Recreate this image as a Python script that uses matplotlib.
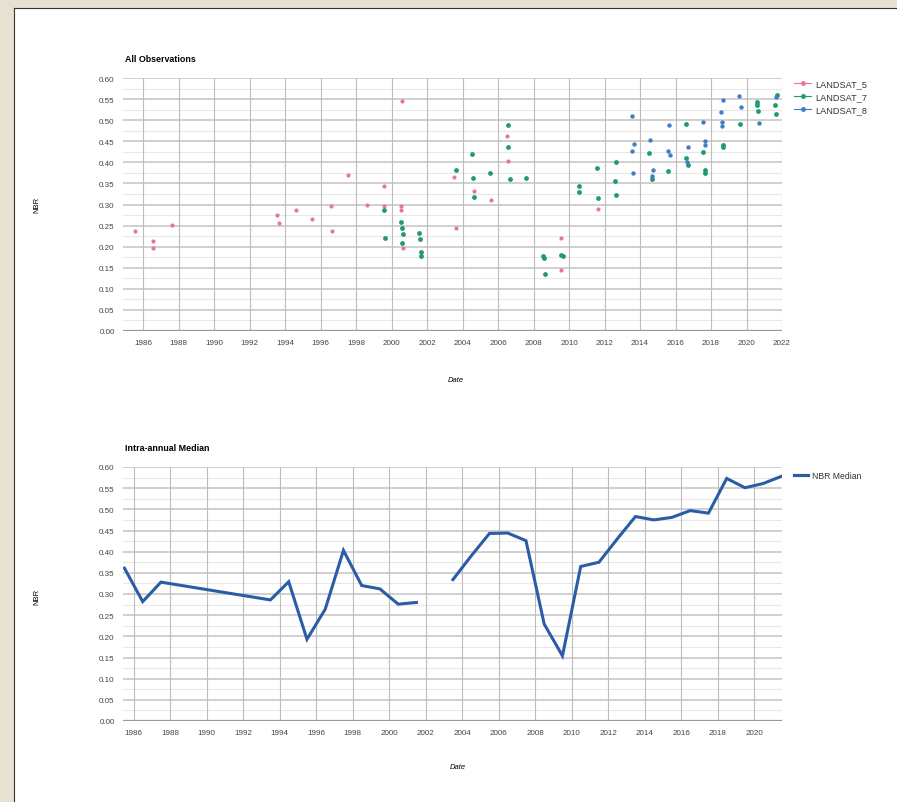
import numpy as np
import matplotlib
matplotlib.use("Agg")
import matplotlib.pyplot as plt
from matplotlib.lines import Line2D

plt.rcParams['font.family'] = ['Liberation Sans', 'DejaVu Sans']

# --- All Observations (scatter) ---
l5_year = [1985.55, 1986.58, 1986.58, 1987.65, 1993.53, 1993.66, 1994.6, 1995.54, 1996.57, 1996.65,
           1997.53, 1998.6, 1999.6, 1999.6, 2000.57, 2000.53, 2000.53, 2000.63, 2003.54, 2003.62,
           2004.66, 2005.6, 2006.53, 2006.56, 2009.55, 2009.57, 2011.65]
l5_nbr = [0.238, 0.214, 0.198, 0.251, 0.276, 0.257, 0.286, 0.266, 0.296, 0.236,
          0.370, 0.300, 0.345, 0.296, 0.545, 0.296, 0.288, 0.196, 0.366, 0.244,
          0.333, 0.311, 0.463, 0.404, 0.220, 0.145, 0.290]

l7_year = [1999.6, 1999.65, 2000.52, 2000.57, 2000.67, 2000.6, 2001.57, 2001.6, 2001.66, 2001.66,
           2003.63, 2004.53, 2004.61, 2004.66, 2005.55, 2006.55, 2006.58, 2006.68, 2007.58,
           2008.55, 2008.57, 2008.65, 2009.53, 2009.64, 2010.58, 2010.58, 2011.56, 2011.63,
           2012.63, 2012.6, 2012.65, 2014.53, 2014.65, 2015.6, 2016.58, 2016.6, 2016.69,
           2017.57, 2017.65, 2017.66, 2018.66, 2018.68, 2019.63, 2020.57, 2020.6, 2020.62,
           2021.7, 2021.59, 2021.65]
l7_nbr = [0.288, 0.220, 0.258, 0.244, 0.230, 0.209, 0.232, 0.217, 0.187, 0.179,
          0.382, 0.419, 0.364, 0.317, 0.375, 0.489, 0.437, 0.360, 0.364,
          0.178, 0.173, 0.136, 0.181, 0.177, 0.345, 0.330, 0.386, 0.315,
          0.401, 0.355, 0.323, 0.422, 0.360, 0.379, 0.490, 0.410, 0.394,
          0.424, 0.382, 0.375, 0.442, 0.436, 0.492, 0.544, 0.537, 0.522,
          0.560, 0.536, 0.515]

l8_year = [2013.57, 2013.66, 2013.53, 2013.62, 2014.56, 2014.72, 2014.65, 2015.65, 2015.56, 2015.69,
           2016.69, 2016.66, 2017.57, 2017.65, 2017.67, 2018.66, 2018.55, 2018.6, 2018.6,
           2019.58, 2019.7, 2020.7, 2021.68]
l8_nbr = [0.511, 0.443, 0.428, 0.374, 0.454, 0.383, 0.367, 0.489, 0.428, 0.417,
          0.437, 0.400, 0.495, 0.450, 0.442, 0.549, 0.520, 0.496, 0.487,
          0.557, 0.532, 0.494, 0.554]

# --- Intra-annual Median ---
med_year = [1985.5, 1986.5, 1987.5, 1993.5, 1994.5, 1995.5, 1996.5, 1997.5, 1998.5, 1999.5,
            2000.5, 2001.5, 2002.5, 2003.5, 2004.5, 2005.5, 2006.5, 2007.5, 2008.5, 2009.5,
            2010.5, 2011.5, 2012.5, 2013.5, 2014.5, 2015.5, 2016.5, 2017.5, 2018.5, 2019.5,
            2020.5, 2021.5]
med_nbr = [0.361, 0.282, 0.328, 0.286, 0.329, 0.193, 0.264, 0.403, 0.320, 0.312,
           0.276, 0.280, np.nan, 0.334, 0.390, 0.443, 0.444, 0.426, 0.229, 0.154,
           0.365, 0.375, 0.430, 0.483, 0.475, 0.481, 0.497, 0.491, 0.573, 0.551,
           0.561, 0.578]

y_ticks = np.arange(0, 0.601, 0.05)

W, H = 897, 803
fig = plt.figure(figsize=(W / 100, H / 100), dpi=100)
fig.patch.set_facecolor('#e8e0d3')


def fx(px):
    return px / W


def fy(py):
    return 1 - py / H


# white panel with thin dark edge on left/top
panel = plt.Rectangle((fx(14), 0), 1, fy(9), transform=fig.transFigure,
                      facecolor='white', edgecolor='none', zorder=-10)
fig.add_artist(panel)
fig.add_artist(Line2D([fx(14), fx(14)], [0, fy(9)], color='#333333', lw=0.8, zorder=-9))
fig.add_artist(Line2D([fx(14), 1], [fy(9), fy(9)], color='#333333', lw=0.8, zorder=-9))

C5, C7, C8 = '#e8788f', '#1e9c6a', '#3f7fc4'
MED = '#2a5da6'


def style_axes(ax, xlim, xticks):
    ax.set_facecolor('none')
    ax.set_xlim(*xlim)
    ax.set_ylim(0, 0.6)
    for s in ax.spines.values():
        s.set_visible(False)
    for v in np.arange(0.025, 0.6, 0.05):
        ax.axhline(v, color='#e8e8e8', lw=0.8, zorder=0)
    for v in y_ticks[1:]:
        ax.axhline(v, color='#cdcdcd', lw=1.3, zorder=0)
    for v in xticks:
        ax.axvline(v, color='#bdbdbd', lw=0.8, zorder=0)
    ax.axhline(0, color='#999999', lw=1.6, zorder=1)
    ax.set_yticks(y_ticks)
    ax.set_yticklabels([f"{v:.2f}" for v in y_ticks])
    ax.set_xticks(xticks)
    ax.set_xticklabels([str(int(v)) for v in xticks])
    ax.tick_params(length=0, labelsize=5.8, labelcolor='#444444', pad=6)


# top chart
ax1 = fig.add_axes([fx(123), fy(332), fx(782) - fx(123), fy(79) - fy(332)])
style_axes(ax1, (1984.87, 2022), np.arange(1986, 2023, 2))
ax1.scatter(l5_year, l5_nbr, s=9, color=C5, zorder=3, linewidths=0)
ax1.scatter(l7_year, l7_nbr, s=12, color=C7, zorder=3, linewidths=0)
ax1.scatter(l8_year, l8_nbr, s=10, color=C8, zorder=3, linewidths=0)
handles = [Line2D([], [], color=c, lw=0.8, marker='o', markersize=2.5) for c in (C5, C7, C8)]
fig.legend(handles, ['LANDSAT_5', 'LANDSAT_7', 'LANDSAT_8'],
           loc='upper left', bbox_to_anchor=(fx(786), fy(72)), frameon=False,
           fontsize=6.6, handlelength=1.8, handletextpad=0.5, labelspacing=0.45,
           labelcolor='#333333')

fig.text(fx(125), fy(59), 'All Observations', fontsize=6.4, fontweight='bold', va='center')
fig.text(fx(37), fy(205), 'NBR', fontsize=5.5, rotation=90, va='center', ha='center')
fig.text(fx(456), fy(381), 'Date', fontsize=5.5, style='italic', va='center', ha='center')

# bottom chart
ax2 = fig.add_axes([fx(123), fy(722), fx(782) - fx(123), fy(468) - fy(722)])
style_axes(ax2, (1985.42, 2021.53), np.arange(1986, 2021, 2))
ax2.plot(med_year, med_nbr, color=MED, lw=2.2, zorder=3, solid_joinstyle='miter')
fig.legend([Line2D([], [], color=MED, lw=2.3)], ['NBR Median'],
           loc='upper left', bbox_to_anchor=(fx(786), fy(464)), frameon=False,
           fontsize=6.2, handlelength=1.6, handletextpad=0.5, labelcolor='#333333')

fig.text(fx(125), fy(449), 'Intra-annual Median', fontsize=6.4, fontweight='bold', va='center')
fig.text(fx(37), fy(597), 'NBR', fontsize=5.5, rotation=90, va='center', ha='center')
fig.text(fx(458), fy(768), 'Date', fontsize=5.5, style='italic', va='center', ha='center')

fig.savefig('out.png', dpi=100, facecolor=fig.get_facecolor())
